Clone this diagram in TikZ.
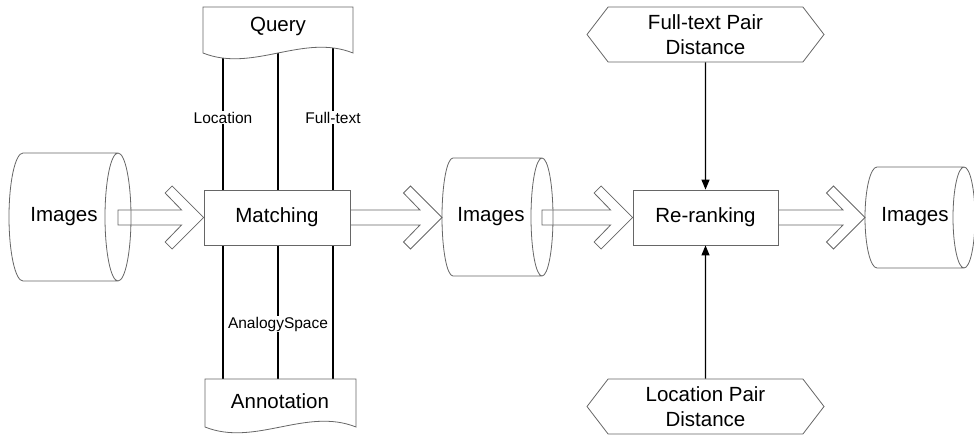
\documentclass[tikz,border=0pt]{standalone}
\usepackage{fontspec}
\setmainfont{Liberation Sans}
\usetikzlibrary{shapes.geometric,shapes.symbols,arrows.meta,calc,backgrounds}
\tikzstyle{shp}=[draw=black!60,line width=.8pt]
\tikzstyle{box}=[shp,rectangle,minimum height=55,inner sep=0pt,font=\fontsize{20.5}{25}\selectfont]
\tikzstyle{hex}=[shp,signal,signal to=west and east,signal pointer angle=105,minimum width=237,minimum height=55,inner sep=0pt,align=center,font=\fontsize{20.5}{25}\selectfont]
\tikzstyle{txt}=[inner sep=0pt,font=\fontsize{20.5}{25}\selectfont]
\tikzstyle{lbl}=[fill=white,inner sep=1pt,font=\fontsize{15.5}{18}\selectfont]
\tikzstyle{con}=[black,line width=1.2pt]
\tikzstyle{fat}=[shp]

\begin{document}
\begin{tikzpicture}[x=1pt,y=-1pt]
\useasboundingbox (0,0) rectangle (974,439);
% cylinders (drawn as paths)
\draw[shp] (23,153) -- (118,153) (23,281) -- (118,281)
  (23,153) arc[start angle=90,end angle=270,x radius=14,y radius=-64]
  (118,217) ellipse[x radius=13,y radius=64];
\node[txt] (img1) at (64,217) {Images};
\coordinate (img1e) at (118,217.5);
\draw[shp] (453,158) -- (542,158) (453,276) -- (542,276)
  (453,158) arc[start angle=90,end angle=270,x radius=11,y radius=-59]
  (542,217) ellipse[x radius=11,y radius=59];
\node[txt] (img2) at (491,217) {Images};
\coordinate (img2w) at (442,217.5);
\coordinate (img2e) at (542,217.5);
\draw[shp] (877,167) -- (964,167) (877,268) -- (964,268)
  (877,167) arc[start angle=90,end angle=270,x radius=12,y radius=-50.5]
  (964,217.5) ellipse[x radius=11,y radius=50.5];
\node[txt] (img3) at (915,217) {Images};
\coordinate (img3w) at (865,217.5);
% boxes
\node[box,minimum width=146] (match) at (277,217.5) {Matching};
\node[box,minimum width=145] (rerank) at (705.5,217.5) {Re-ranking};
% query and annotation
\node[txt,minimum width=150,minimum height=46] (query) at (278,30) {};
\node[txt,minimum width=151,minimum height=48] (annot) at (280.5,403) {};
\begin{pgfonlayer}{background}
\draw[con] (match.north -| 223,0) -- (query.center -| 223,0) node[lbl,pos=.45] {Location};
\draw[con] (match.north -| 278,0) -- (query.center -| 278,0);
\draw[con] (match.north -| 333,0) -- (query.center -| 333,0) node[lbl,pos=.45] {Full-text};
\draw[con] (match.south -| 223,0) -- (annot.center -| 223,0);
\draw[con] (match.south -| 278,0) -- (annot.center -| 278,0) node[lbl,midway] {AnalogySpace};
\draw[con] (match.south -| 333,0) -- (annot.center -| 333,0);
\end{pgfonlayer}
\draw[shp,fill=white] (203,7) -- (353,7) -- (353,53) .. controls (303,33) and (253,73) .. (203,53) -- cycle;
\node[txt] at (278,26) {Query};
\draw[shp,fill=white] (205,379) -- (356,379) -- (356,427) .. controls (306,407) and (255,447) .. (205,427) -- cycle;
\node[txt] at (280,401) {Annotation};
% fat arrows
\foreach \a/\b in {img1e/match.west,match.east/img2w,img2e/rerank.west,rerank.east/img3w}{
  \draw[fat] ($(\a)+(0,-7.5)$) -- ($(\b)+(-22,-7.5)$) -- ($(\b)+(-38.5,-24.5)$) -- ($(\b)+(-31.5,-31.5)$)
    -- (\b) -- ($(\b)+(-31.5,31.5)$) -- ($(\b)+(-38.5,24.5)$) -- ($(\b)+(-22,7.5)$) -- ($(\a)+(0,7.5)$) -- cycle;
}
% distances
\node[hex] (ftd) at (705.5,34.5) {Full-text Pair\\Distance};
\node[hex] (lcd) at (705.5,406.5) {Location Pair\\Distance};
\draw[con,-{Triangle[length=10pt,width=8pt]}] (ftd) -- (rerank);
\draw[con,-{Triangle[length=10pt,width=8pt]}] (lcd) -- (rerank);
\end{tikzpicture}
\end{document}
